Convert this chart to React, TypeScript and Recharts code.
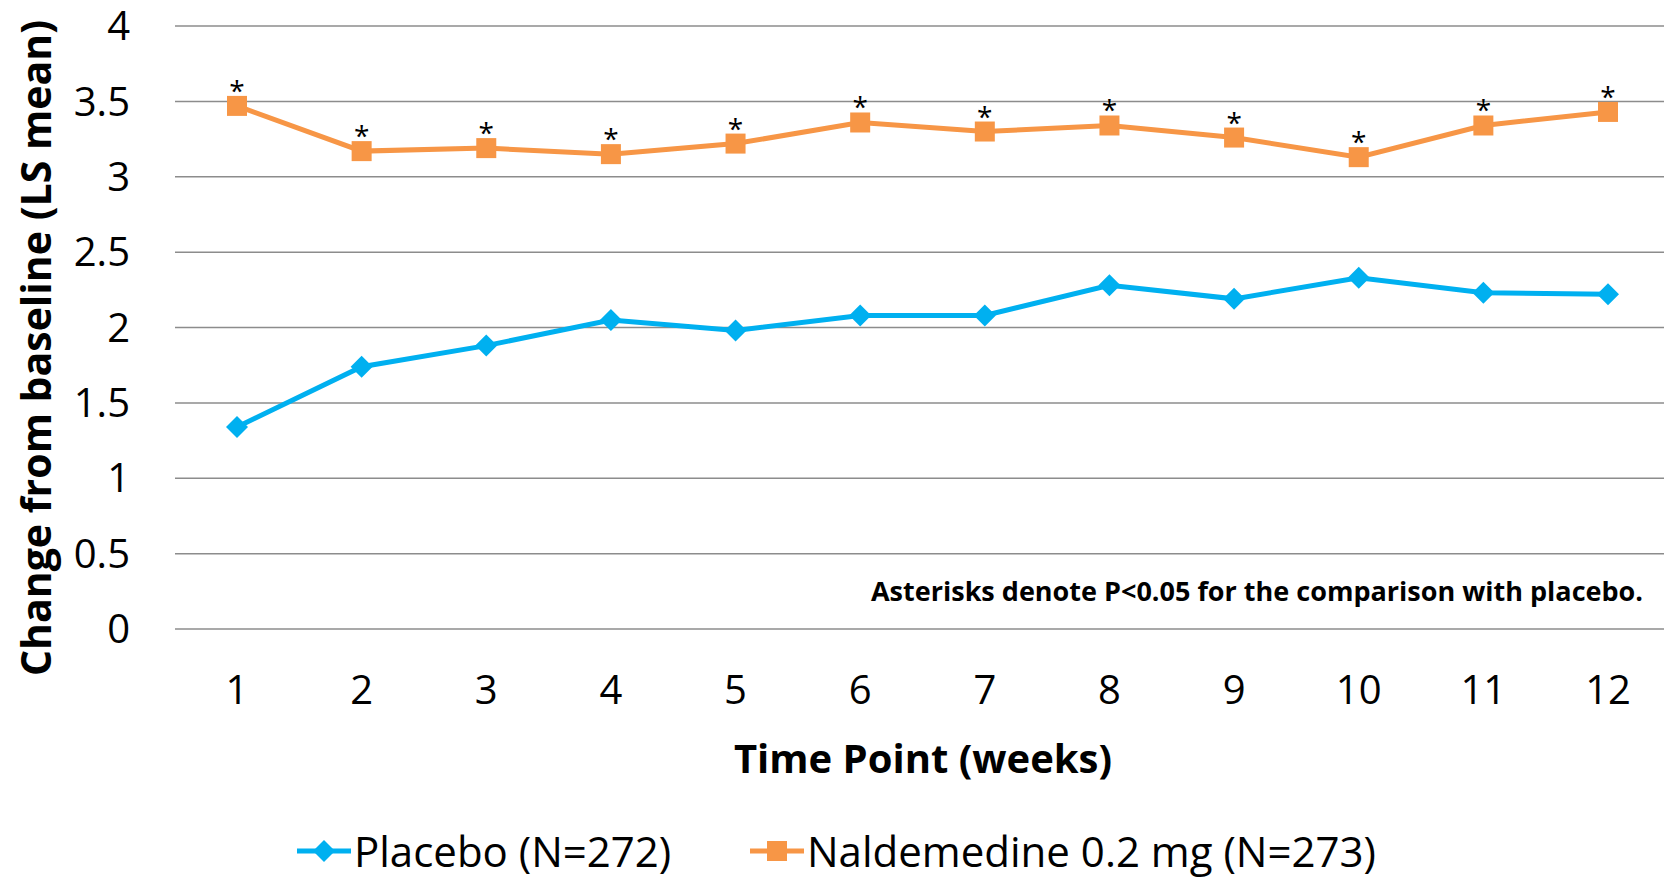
import React from 'react';
import { LineChart, Line, XAxis, YAxis, CartesianGrid, LabelList } from 'recharts';

const weeks = ['1', '2', '3', '4', '5', '6', '7', '8', '9', '10', '11', '12'];
const placebo = [1.34, 1.74, 1.88, 2.05, 1.98, 2.08, 2.08, 2.28, 2.19, 2.33, 2.23, 2.22];
const naldemedine = [3.47, 3.17, 3.19, 3.15, 3.22, 3.36, 3.3, 3.34, 3.26, 3.13, 3.34, 3.43];
const yTicks = [0, 0.5, 1, 1.5, 2, 2.5, 3, 3.5, 4];
const significant = [true, true, true, true, true, true, true, true, true, true, true, true];

const data = weeks.map((w, i) => ({ week: w, placebo: placebo[i], naldemedine: naldemedine[i], sig: significant[i] ? '*' : '' }));

const FONT = '"Open Sans", Lato, sans-serif';
const BLUE = '#00B0F0';
const ORANGE = '#F79646';

const Diamond = (props: any) => {
  const { cx, cy, index } = props;
  const r = 11;
  return <path key={`d${index}`} d={`M${cx},${cy - r} L${cx + r},${cy} L${cx},${cy + r} L${cx - r},${cy} Z`} fill={BLUE} />;
};

const Square = (props: any) => {
  const { cx, cy, index } = props;
  return <rect key={`s${index}`} x={cx - 10} y={cy - 10} width={20} height={20} fill={ORANGE} />;
};

const Asterisk = (props: any) => {
  const { x, y, value } = props;
  return (
    <text x={x} y={y - 5} textAnchor="middle" fontSize={28} fontFamily={FONT} fill="#000">
      {value}
    </text>
  );
};

export default function App() {
  return (
    <div style={{ position: 'absolute', left: 0, top: 0, width: 1664, height: 878, overflow: 'hidden', background: '#fff' }}>
      <LineChart width={1670} height={878} data={data} margin={{ top: 26, right: 0, left: 0, bottom: 189 }}>
        <CartesianGrid horizontal vertical={false} stroke="#8c8c8c" strokeWidth={1.5} />
        <XAxis
          dataKey="week"
          height={60}
          padding={{ left: 62, right: 62 }}
          axisLine={false}
          tickLine={false}
          tickSize={0}
          tickMargin={47}
          tick={{ fontSize: 40, fill: '#000', fontFamily: FONT }}
          interval={0}
        />
        <YAxis
          width={175}
          domain={[0, 4]}
          ticks={yTicks}
          axisLine={false}
          tickLine={false}
          tickSize={0}
          tickMargin={45}
          tick={{ fontSize: 40, fill: '#000', fontFamily: FONT }}
          interval={0}
        />
        <Line
          type="linear"
          dataKey="placebo"
          stroke={BLUE}
          strokeWidth={5}
          dot={Diamond}
          activeDot={false}
          isAnimationActive={false}
        />
        <Line
          type="linear"
          dataKey="naldemedine"
          stroke={ORANGE}
          strokeWidth={5}
          dot={Square}
          activeDot={false}
          isAnimationActive={false}
        >
          <LabelList dataKey="sig" content={Asterisk} />
        </Line>
      </LineChart>
      <div style={{ position: 'absolute', left: 0, top: 826, width: 1664, height: 50, fontFamily: FONT, fontSize: 42, lineHeight: 1, color: '#000' }}>
        <div style={{ position: 'absolute', left: 297, top: 0, display: 'flex', alignItems: 'center', height: 50 }}>
          <svg width={54} height={30}>
            <line x1={0} y1={15} x2={54} y2={15} stroke={BLUE} strokeWidth={5} />
            <path d="M27,4 L38,15 L27,26 L16,15 Z" fill={BLUE} />
          </svg>
          <span style={{ marginLeft: 3, lineHeight: 1 }}>Placebo (N=272)</span>
        </div>
        <div style={{ position: 'absolute', left: 750, top: 0, display: 'flex', alignItems: 'center', height: 50 }}>
          <svg width={54} height={30}>
            <line x1={0} y1={15} x2={54} y2={15} stroke={ORANGE} strokeWidth={5} />
            <rect x={17} y={5} width={20} height={20} fill={ORANGE} />
          </svg>
          <span style={{ marginLeft: 3, lineHeight: 1 }}>Naldemedine 0.2 mg (N=273)</span>
        </div>
      </div>
      <div
        style={{
          position: 'absolute',
          left: 35,
          top: 348,
          transform: 'translate(-50%, -50%) rotate(-90deg)',
          whiteSpace: 'nowrap',
          fontFamily: FONT,
          fontWeight: 700,
          fontSize: 41,
          color: '#000',
        }}
      >
        Change from baseline (LS mean)
      </div>
      <div
        style={{
          position: 'absolute',
          left: 923,
          top: 757,
          transform: 'translate(-50%, -50%)',
          whiteSpace: 'nowrap',
          fontFamily: FONT,
          fontWeight: 700,
          fontSize: 40,
          color: '#000',
        }}
      >
        Time Point (weeks)
      </div>
      <div
        style={{
          position: 'absolute',
          right: 21,
          top: 590,
          transform: 'translateY(-50%)',
          whiteSpace: 'nowrap',
          fontFamily: FONT,
          fontWeight: 700,
          fontSize: 27,
          color: '#000',
        }}
      >
        Asterisks denote P&lt;0.05 for the comparison with placebo.
      </div>
    </div>
  );
}
